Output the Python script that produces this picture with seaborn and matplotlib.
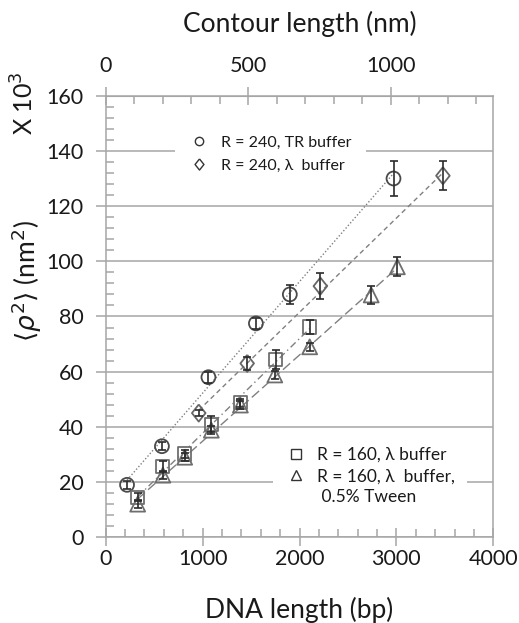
import matplotlib
matplotlib.use("Agg")
import matplotlib.pyplot as plt
import seaborn as sns
from matplotlib.lines import Line2D
from matplotlib.ticker import MultipleLocator

# R = 240, TR buffer (circles)
tr240_bp = [220, 580, 1060, 1550, 1900, 2970]
tr240_rho = [19, 33, 58, 77.5, 88, 130]
tr240_err = [1.5, 1.5, 2, 2, 3.4, 6.2]

# R = 240, lambda buffer (diamonds)
lam240_bp = [960, 1460, 2215, 3480]
lam240_rho = [45, 63, 91, 131]
lam240_err = [1, 2.4, 4.7, 5.3]

# R = 160, lambda buffer (squares)
lam160_bp = [330, 590, 815, 1090, 1390, 1755, 2105]
lam160_rho = [14.5, 25.5, 30.2, 41, 48.7, 64.5, 76.2]
lam160_err = [1.5, 2, 1.5, 2.9, 1.5, 3.5, 2.5]

# R = 160, lambda buffer, 0.5% Tween (triangles)
tween_bp = [330, 590, 815, 1090, 1390, 1745, 2105, 2740, 3010]
tween_rho = [12, 22.5, 29, 38.8, 47.9, 58.8, 69, 87.8, 98]
tween_err = [1.5, 1.5, 1.5, 1.5, 1.5, 1.5, 1.5, 3.2, 3.4]

legend_top = ["R = 240, TR buffer", "R = 240, \u03bb  buffer"]
legend_bottom = ["R = 160, \u03bb buffer", "R = 160, \u03bb  buffer,", " 0.5% Tween"]

BP_TO_NM = 0.34
GRAY = "#a6a6a6"
TXT = "#1a1a1a"
DIAMOND = [(0, 1), (0.8, 0), (0, -1), (-0.8, 0), (0, 1)]

sns.set_style("white")
plt.rcParams["font.family"] = ["Lato", "DejaVu Sans"]

fig = plt.figure(figsize=(5.19, 6.23), dpi=100)
ax = fig.add_axes([0.2037, 0.1376, 0.7468, 0.7088])

series = [
    (tr240_bp, tr240_rho, tr240_err, "o", 100, "#4a4a4a", (0, (1, 1.5))),
    (lam240_bp, lam240_rho, lam240_err, DIAMOND, 150, "#666666", (0, (3.5, 2.5))),
    (lam160_bp, lam160_rho, lam160_err, "s", 90, "#6e6e6e", (0, (5, 2.5, 1, 2.5))),
    (tween_bp, tween_rho, tween_err, "^", 115, "#6e6e6e", (0, (7, 3))),
]

for bp, rho, err, mk, size, col, ls in series:
    # linear trendline over the data range
    sns.regplot(x=bp, y=rho, scatter=False, ci=None, truncate=True, ax=ax,
                color="#808080", line_kws=dict(lw=1.0, linestyle=ls, zorder=2))
    ax.errorbar(bp, rho, yerr=err, fmt="none", ecolor="#2b2b2b",
                elinewidth=1.2, capsize=3, capthick=1.2, zorder=4)
    sns.scatterplot(x=bp, y=rho, marker=mk, s=size, facecolors="none",
                    edgecolors=col, linewidth=1.3, ax=ax, zorder=3)

ax.set_xlim(0, 4000)
ax.set_ylim(0, 160)
ax.set_xticks(range(0, 4001, 1000))
ax.set_yticks(range(0, 161, 20))
ax.xaxis.set_minor_locator(MultipleLocator(200))
ax.yaxis.set_minor_locator(MultipleLocator(4))
ax.yaxis.grid(True, which="major", color=GRAY, lw=1.1)
ax.set_axisbelow(True)

for s in ax.spines.values():
    s.set_color(GRAY)
    s.set_linewidth(1.1)

ax.tick_params(axis="x", which="major", direction="inout", length=13, width=1.1,
               color=GRAY, labelsize=15.5, pad=2, labelcolor=TXT)
ax.tick_params(axis="x", which="minor", direction="in", length=6, width=1.1, color=GRAY)
ax.tick_params(axis="y", which="major", direction="out", length=7, width=1.1,
               color=GRAY, labelsize=15.5, pad=9, labelcolor=TXT)
ax.tick_params(axis="y", which="minor", direction="in", length=6, width=1.1, color=GRAY)
ax.tick_params(left=True, bottom=True, which="both")

ax.set_xlabel("DNA length (bp)", fontsize=19, color=TXT, labelpad=20)
ax.set_ylabel(r"$\langle\rho^2\rangle$ (nm$^2$)", fontsize=19, color=TXT)
ax.yaxis.set_label_coords(-0.16, 0.58)
fig.text(0.046, 0.835, "X 10$^3$", rotation=90, fontsize=18, color=TXT,
         ha="center", va="center")

# contour length on top
secax = ax.secondary_xaxis("top", functions=(lambda x: x * BP_TO_NM, lambda x: x / BP_TO_NM))
secax.set_xticks([0, 500, 1000])
secax.xaxis.set_minor_locator(MultipleLocator(100))
secax.spines["top"].set_color(GRAY)
secax.tick_params(which="major", direction="inout", length=13, width=1.1, color=GRAY,
                  labelsize=15.5, pad=8, labelcolor=TXT)
secax.tick_params(which="minor", direction="in", length=6, width=1.1, color=GRAY)
secax.set_xlabel("Contour length (nm)", fontsize=19, color=TXT, labelpad=17)


def handle(mk, ms):
    return Line2D([], [], ls="none", marker=mk, ms=ms, mfc="none", mec="#333333", mew=1.0)


leg1 = ax.legend([handle("o", 6), handle(DIAMOND, 8)], legend_top,
                 loc="upper left", bbox_to_anchor=(0.157, 0.96), fontsize=11.5,
                 frameon=True, facecolor="white", edgecolor="none", framealpha=1,
                 handletextpad=0.8, labelspacing=0.55, borderpad=0.9, handlelength=1.2,
                 labelcolor=TXT)
ax.add_artist(leg1)
blank = Line2D([], [], ls="none")
ax.legend([handle("s", 7), handle("^", 7), blank], legend_bottom,
          loc="lower left", bbox_to_anchor=(0.41, 0.025), fontsize=12.5,
          frameon=True, facecolor="white", edgecolor="none", framealpha=1,
          handletextpad=0.6, labelspacing=0.3, borderpad=0.7, handlelength=1.2,
          labelcolor=TXT)

fig.savefig("out.png", dpi=100)
